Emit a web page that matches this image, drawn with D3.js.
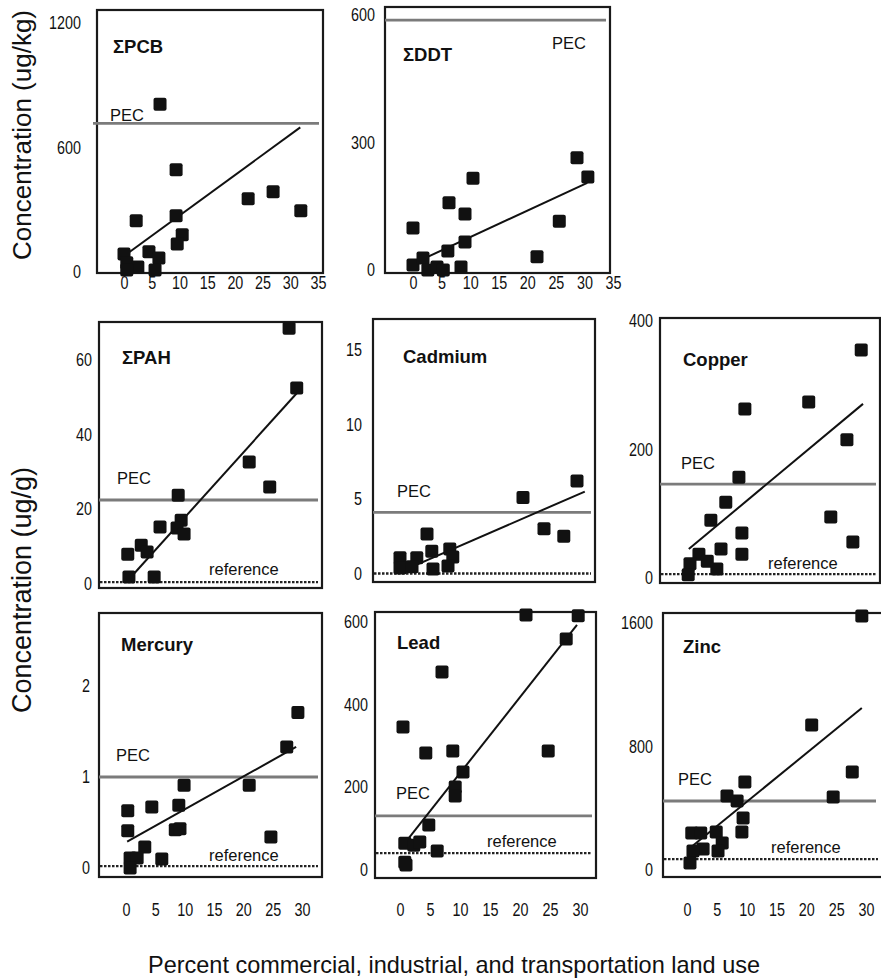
<!DOCTYPE html>
<html>
<head>
<meta charset="utf-8">
<script src="https://cdn.jsdelivr.net/npm/d3@7"></script>
<style>
  body { margin: 0; background: #fff; }
  text { font-family: "Liberation Sans", Arial, sans-serif; fill: #111; }
  .tick text { font-family: "Liberation Sans", Arial, sans-serif; font-size: 17.5px; fill: #111; }
</style>
</head>
<body>
<svg id="fig" width="881" height="978"></svg>
<script>
// x = percent commercial/industrial/transportation land use, y = concentration
var xTicks35 = [0, 5, 10, 15, 20, 25, 30, 35];
var xTicks30 = [0, 5, 10, 15, 20, 25, 30];

var pcbPts = [[6.5, 808], [9.4, 493], [22.4, 353], [26.9, 387], [31.9, 295], [9.4, 271], [10.5, 179], [9.6, 135],
    [2.2, 247], [0, 87], [4.5, 97], [6.3, 68], [0.5, 44], [2.5, 24], [0.5, 10], [5.6, 10]];
var pcbFit = [[0.5, 87], [31.8, 697]];
var pcbTicks = [0, 600, 1200];

var ddtPts = [[0, 99], [0, 12], [1.75, 28], [2.6, 0], [4.2, 7], [5.3, 0], [6.1, 45], [6.3, 158], [9.1, 132],
    [9.1, 66], [8.4, 7], [10.5, 216], [21.7, 31], [25.6, 115], [28.7, 264], [30.6, 219]];
var ddtFit = [[2.1, 28], [30.5, 205]];
var ddtTicks = [0, 300, 600];

var pahPts = [[27.8, 68.5], [29.1, 52.5], [21.0, 32.7], [24.5, 26], [8.9, 23.8], [9.4, 17.1], [8.7, 15], [9.9, 13.4],
    [5.8, 15.3], [2.6, 10.4], [3.6, 8.6], [0.3, 8], [0.5, 1.9], [4.8, 1.9]];
var pahFit = [[0.7, 1.6], [29.1, 51.1]];
var pahTicks = [0, 20, 40, 60];

var cdPts = [[29.5, 6.2], [20.5, 5.1], [24.0, 3.0], [27.3, 2.5], [4.5, 2.65], [5.3, 1.5], [8.3, 1.65], [8.8, 1.1],
    [8.0, 0.5], [5.5, 0.3], [2.8, 1.05], [0, 1.05], [0, 0.37], [2.0, 0.45]];
var cdFit = [[0.8, 0.24], [30.8, 5.5]];
var cdTicks = [0, 5, 10, 15];

var cuPts = [[29.2, 355], [20.4, 274], [9.7, 263], [26.8, 215], [8.7, 157], [6.5, 118], [4.0, 90], [24.1, 95],
    [9.2, 70], [27.8, 56], [5.7, 45], [9.2, 37], [2.0, 37], [3.4, 26], [0.5, 22], [5.0, 14], [0.2, 5]];
var cuFit = [[0.3, 45], [29.5, 271]];
var cuTicks = [0, 200, 400];

var hgPts = [[29.3, 1.71], [27.4, 1.33], [9.9, 0.91], [21.0, 0.91], [4.4, 0.67], [9.0, 0.69], [0.3, 0.63], [0.3, 0.41],
    [8.4, 0.42], [9.2, 0.43], [24.7, 0.34], [3.2, 0.23], [0.7, 0.11], [1.9, 0.11], [6.1, 0.10], [0.7, 0.0]];
var hgFit = [[0.2, 0.29], [29.0, 1.33]];
var hgTicks = [0, 1, 2];

var pbPts = [[21, 617], [29.7, 615], [27.7, 559], [7, 479], [0.5, 346], [4.3, 283], [8.8, 288], [24.7, 288],
    [10.5, 237], [9.2, 201], [9.2, 179], [4.8, 109], [0.8, 65], [2.3, 60], [3.3, 68], [6.2, 46], [0.8, 19], [1, 12]];
var pbFit = [[0.8, 65], [29.5, 593]];
var pbTicks = [0, 200, 400, 600];

var znPts = [[29.3, 1645], [20.9, 939], [27.7, 635], [24.5, 473], [9.7, 570], [6.7, 479], [8.4, 447], [9.4, 337],
    [9.2, 246], [4.9, 246], [0.8, 240], [2.3, 240], [5.9, 175], [5.2, 123], [2.7, 136], [1.0, 123], [0.5, 45]];
var znFit = [[0.5, 142], [29.3, 1049]];
var znTicks = [0, 800, 1600];

// sediment quality guidelines (PEC) and reference-site levels
var pecValues = {pcb: 716, ddt: 588, pah: 22.5, cd: 4.1, cu: 146, hg: 1.0, pb: 131, zn: 447};
var refValues = {pah: 0.5, cd: 0, cu: 6, hg: 0.02, pb: 41, zn: 71};

// panel placement: frame [left, top, right, bottom], x/y anchors in pixels
var panels = [
    {key: 'pcb', title: '\u03A3PCB', pts: pcbPts, fit: pcbFit, yTicks: pcbTicks, xTicks: xTicks35,
        frame: [97, 10, 323, 273], xr: [124, 318], yr: [272, 23], yLab: 81, xLab: 277,
        titlePos: [113, 47], pecPos: [110, 115], pecFrom: 93},
    {key: 'ddt', title: '\u03A3DDT', pts: ddtPts, fit: ddtFit, yTicks: ddtTicks, xTicks: xTicks35,
        frame: [385, 7, 610, 273], xr: [413, 613], yr: [270, 15], yLab: 375, xLab: 277,
        titlePos: [403, 55], pecPos: [552, 43]},
    {key: 'pah', title: '\u03A3PAH', pts: pahPts, fit: pahFit, yTicks: pahTicks, xTicks: null,
        frame: [99, 322, 322, 588], xr: [126, 302], yr: [584, 360], yLab: 92,
        titlePos: [122, 358], pecPos: [117, 478], refPos: [209, 569]},
    {key: 'cd', title: 'Cadmium', pts: cdPts, fit: cdFit, yTicks: cdTicks, xTicks: null,
        frame: [373, 319, 595, 582], xr: [400, 580], yr: [573.5, 350], yLab: 362,
        titlePos: [403, 357], pecPos: [397, 491]},
    {key: 'cu', title: 'Copper', pts: cuPts, fit: cuFit, yTicks: cuTicks, xTicks: null,
        frame: [660, 318, 880, 583], xr: [687, 866], yr: [578, 321], yLab: 653,
        titlePos: [683, 360], pecPos: [681, 463], refPos: [768, 563]},
    {key: 'hg', title: 'Mercury', pts: hgPts, fit: hgFit, yTicks: hgTicks, xTicks: xTicks30,
        frame: [99, 613, 322, 877], xr: [126, 302], yr: [868, 686], yLab: 90, xLab: 904,
        titlePos: [121, 645], pecPos: [116, 755], refPos: [209, 855]},
    {key: 'pb', title: 'Lead', pts: pbPts, fit: pbFit, yTicks: pbTicks, xTicks: xTicks30,
        frame: [375, 612, 596, 878], xr: [400, 580], yr: [870, 622], yLab: 368, xLab: 904,
        titlePos: [397, 643], pecPos: [396, 793], refPos: [487, 841]},
    {key: 'zn', title: 'Zinc', pts: znPts, fit: znFit, yTicks: znTicks, xTicks: xTicks30,
        frame: [663, 613, 886, 877], xr: [687, 866], yr: [870, 623], yLab: 653, xLab: 904,
        titlePos: [683, 647], pecPos: [678, 779], refPos: [771, 847]}
];

var svg = d3.select('#fig');
var sq = 13;

panels.forEach(function (p) {
    var f = p.frame;
    var x = d3.scaleLinear().domain([0, p.xTicks === xTicks35 ? 35 : 30]).range(p.xr);
    var y = d3.scaleLinear().domain([0, p.yTicks[p.yTicks.length - 1]]).range(p.yr);
    var g = svg.append('g').attr('class', 'panel-' + p.key);

    g.append('rect')
        .attr('x', f[0]).attr('y', f[1])
        .attr('width', f[2] - f[0]).attr('height', f[3] - f[1])
        .attr('fill', 'none').attr('stroke', '#1a1a1a').attr('stroke-width', 2.2);

    // y tick labels only (no tick marks), squeezed like the original
    var ya = g.append('g')
        .attr('transform', 'translate(' + p.yLab + ',0)')
        .call(d3.axisLeft(y).tickValues(p.yTicks).tickFormat(d3.format('d')).tickSize(0).tickPadding(0));
    ya.select('.domain').remove();
    ya.selectAll('text').attr('transform', 'scale(0.82,1)');

    if (p.xTicks) {
        var xa = g.append('g')
            .attr('transform', 'translate(0,' + p.xLab + ')')
            .call(d3.axisBottom(x).tickValues(p.xTicks).tickSize(0).tickPadding(0));
        xa.select('.domain').remove();
        xa.selectAll('text').attr('transform', 'scale(0.82,1)');
    }

    // PEC guideline
    var pv = pecValues[p.key];
    g.append('line')
        .attr('x1', p.pecFrom || f[0]).attr('x2', Math.min(f[2], 880) - 4)
        .attr('y1', y(pv)).attr('y2', y(pv))
        .attr('stroke', '#7b7b7b').attr('stroke-width', 2.8);
    g.append('text')
        .attr('x', p.pecPos[0]).attr('y', p.pecPos[1]).attr('dy', '0.35em')
        .style('font-size', '16.5px').text('PEC');

    // reference level
    if (refValues[p.key] !== undefined) {
        var rv = refValues[p.key];
        g.append('line')
            .attr('x1', f[0] + 1).attr('x2', Math.min(f[2], 882) - 4)
            .attr('y1', y(rv)).attr('y2', y(rv))
            .attr('stroke', '#222').attr('stroke-width', 2.3)
            .attr('stroke-dasharray', '2.5,1.5');
        if (p.refPos) {
            g.append('text')
                .attr('x', p.refPos[0]).attr('y', p.refPos[1]).attr('dy', '0.35em')
                .style('font-size', '16.5px').text('reference');
        }
    }

    // regression line
    g.append('line')
        .attr('x1', x(p.fit[0][0])).attr('y1', y(p.fit[0][1]))
        .attr('x2', x(p.fit[1][0])).attr('y2', y(p.fit[1][1]))
        .attr('stroke', '#111').attr('stroke-width', 2);

    g.selectAll('rect.pt')
        .data(p.pts)
        .enter().append('rect')
        .attr('class', 'pt')
        .attr('x', function (d) { return x(d[0]) - sq / 2; })
        .attr('y', function (d) { return y(d[1]) - sq / 2; })
        .attr('width', sq).attr('height', sq)
        .attr('rx', 2)
        .attr('fill', '#111');

    g.append('text')
        .attr('x', p.titlePos[0]).attr('y', p.titlePos[1]).attr('dy', '0.35em')
        .style('font-size', '18.5px').style('font-weight', 'bold')
        .text(p.title);
});

// axis titles
svg.append('text')
    .attr('transform', 'translate(22,135) rotate(-90)')
    .attr('text-anchor', 'middle').attr('dy', '0.35em')
    .style('font-size', '26px')
    .text('Concentration (ug/kg)');

svg.append('text')
    .attr('transform', 'translate(22,590) rotate(-90)')
    .attr('text-anchor', 'middle').attr('dy', '0.35em')
    .style('font-size', '27px')
    .text('Concentration (ug/g)');

svg.append('text')
    .attr('x', 148).attr('y', 973)
    .attr('textLength', 612).attr('lengthAdjust', 'spacingAndGlyphs')
    .style('font-size', '24px')
    .text('Percent commercial, industrial, and transportation land use');
</script>
</body>
</html>
